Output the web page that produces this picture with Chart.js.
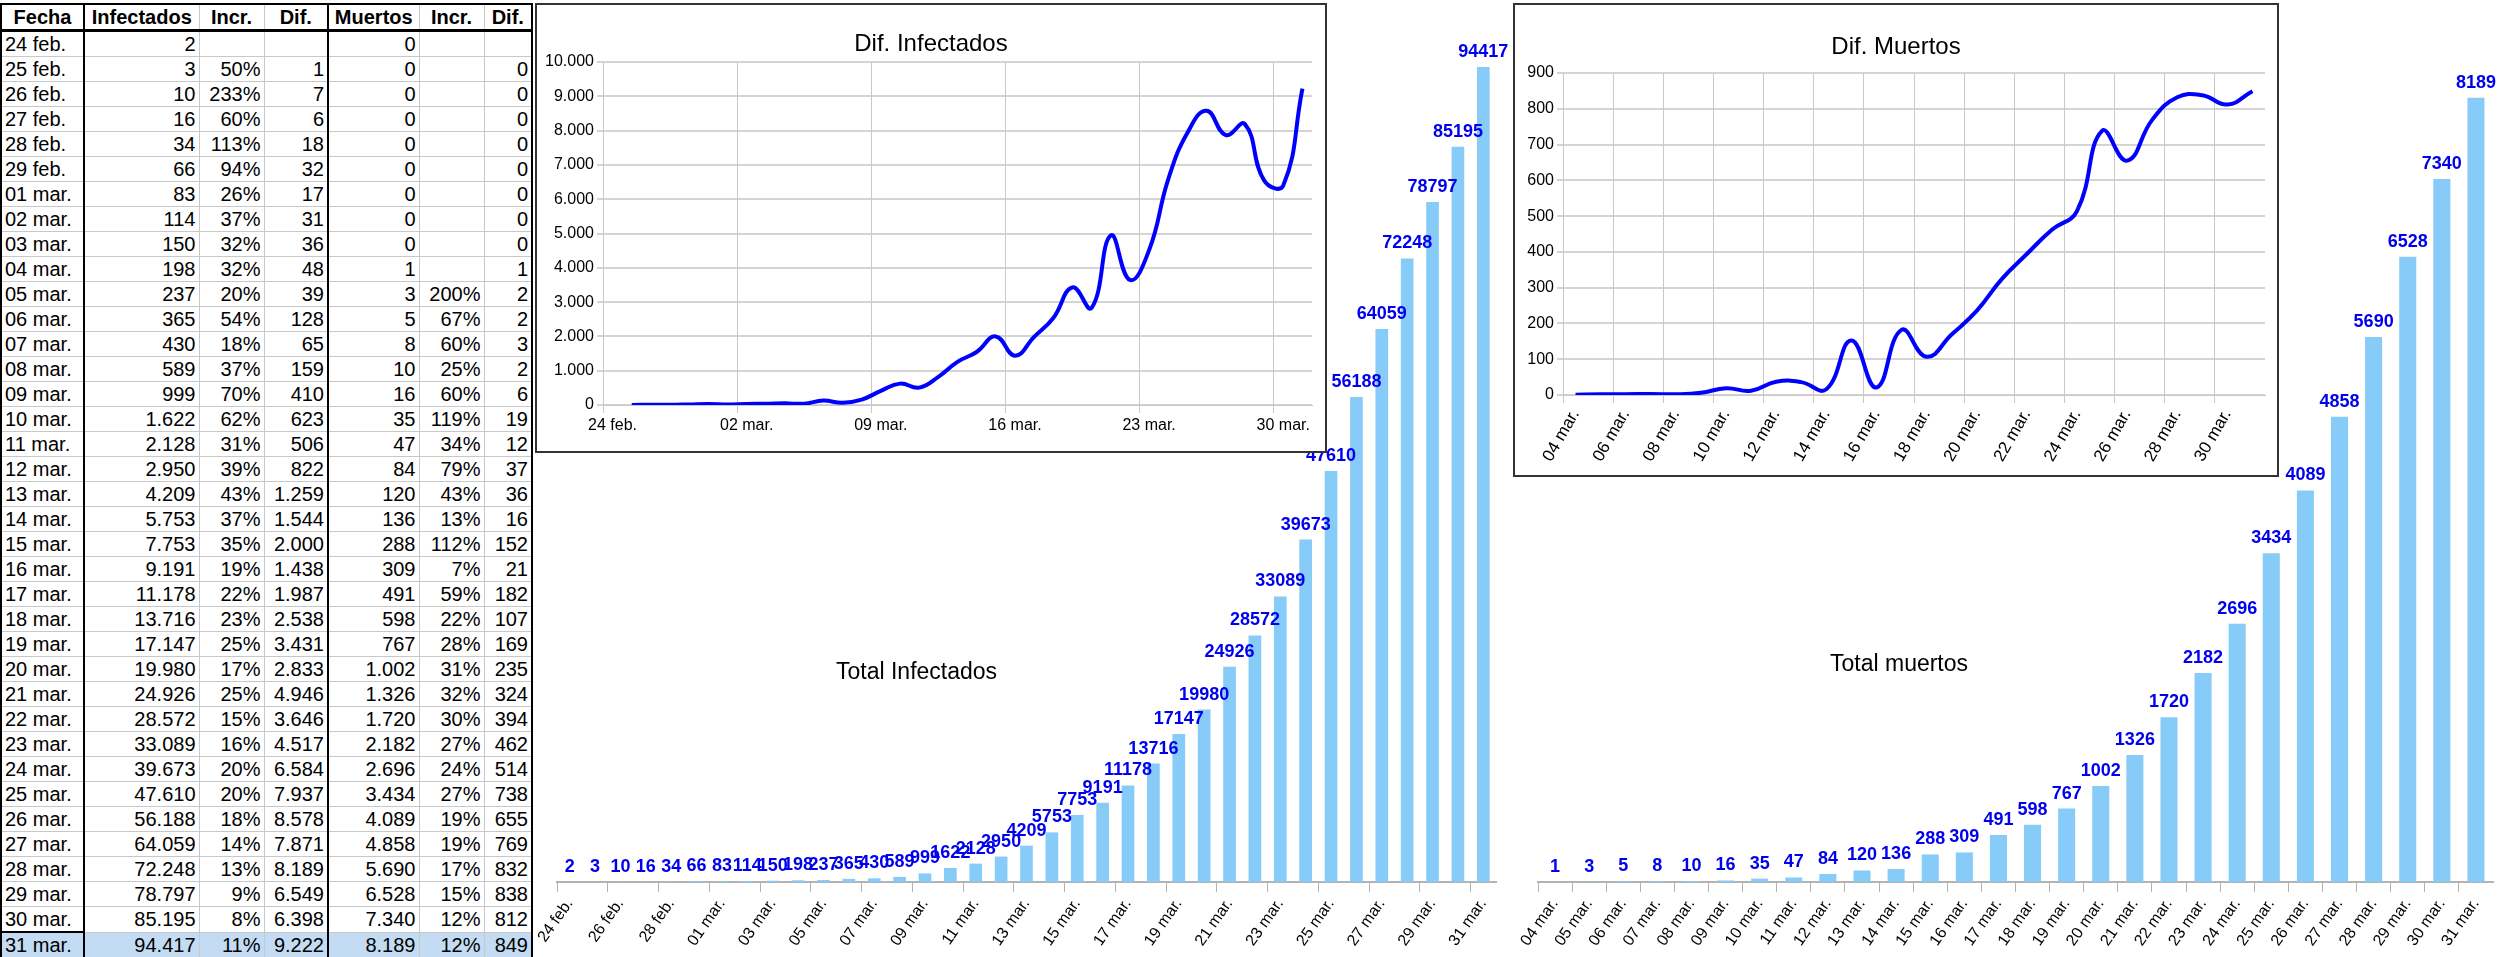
<!DOCTYPE html>
<html>
<head>
<meta charset="UTF-8">
<title>Coronavirus</title>
<script src="https://cdn.jsdelivr.net/npm/chart.js"></script>
<style>
  body { margin: 0; width: 2498px; height: 957px; background: #fff; font-family: "Liberation Sans", Arial, sans-serif; position: relative; overflow: hidden; }
  table { position: absolute; left: 0; top: 3px; border-collapse: collapse; table-layout: fixed; font-size: 20px; }
  td, th { height: 24px; padding: 0 3px; border: 1px solid #c8c8c8; text-align: right; white-space: nowrap; overflow: hidden; line-height: 24px; }
  th { font-weight: bold; text-align: center; border-bottom: 3px solid #000; border-top: 2px solid #000; padding: 0 1px; }
  td.f { text-align: left; }
  .tk { border-right: 2px solid #000; }
  .lk { border-left: 2px solid #000; }
  tr.sel td { background: #c4dcf3; border-top: 1px solid #2a72c4; border-bottom: 1px solid #2a72c4; }
  tr.sel td.f { border: 2px solid #000; }
  .box { position: absolute; background: #fff; border: 2px solid #333; }
  .ttl { position: absolute; width: 100%; text-align: center; font-size: 24px; color: #000; }
  .free { position: absolute; }
  .btl { position: absolute; font-size: 23px; color: #000; }
</style>
</head>
<body>

<table id="tbl"></table>

<div class="free" style="left:535px;top:0;width:975px;height:957px"><canvas id="totInf"></canvas></div>
<div class="btl" style="left:836px;top:658px">Total Infectados</div>
<div class="free" style="left:1510px;top:0;width:988px;height:957px"><canvas id="totMue"></canvas></div>
<div class="btl" style="left:1830px;top:650px">Total muertos</div>

<div class="box" style="left:535px;top:3px;width:788px;height:446px">
  <canvas id="difInf"></canvas>
  <div class="ttl" style="top:24px">Dif. Infectados</div>
</div>
<div class="box" style="left:1513px;top:3px;width:762px;height:470px">
  <canvas id="difMue"></canvas>
  <div class="ttl" style="top:27px">Dif. Muertos</div>
</div>

<script>
  const fechas = ['24 feb.','25 feb.','26 feb.','27 feb.','28 feb.','29 feb.','01 mar.','02 mar.','03 mar.','04 mar.',
    '05 mar.','06 mar.','07 mar.','08 mar.','09 mar.','10 mar.','11 mar.','12 mar.','13 mar.','14 mar.',
    '15 mar.','16 mar.','17 mar.','18 mar.','19 mar.','20 mar.','21 mar.','22 mar.','23 mar.','24 mar.',
    '25 mar.','26 mar.','27 mar.','28 mar.','29 mar.','30 mar.','31 mar.'];
  const infectados = [2,3,10,16,34,66,83,114,150,198,237,365,430,589,999,1622,2128,2950,4209,5753,7753,9191,11178,
    13716,17147,19980,24926,28572,33089,39673,47610,56188,64059,72248,78797,85195,94417];
  const incrInf = ['','50%','233%','60%','113%','94%','26%','37%','32%','32%','20%','54%','18%','37%','70%','62%','31%',
    '39%','43%','37%','35%','19%','22%','23%','25%','17%','25%','15%','16%','20%','20%','18%','14%','13%','9%','8%','11%'];
  const difInf = [null,1,7,6,18,32,17,31,36,48,39,128,65,159,410,623,506,822,1259,1544,2000,1438,1987,2538,3431,2833,
    4946,3646,4517,6584,7937,8578,7871,8189,6549,6398,9222];
  const muertos = [0,0,0,0,0,0,0,0,0,1,3,5,8,10,16,35,47,84,120,136,288,309,491,598,767,1002,1326,1720,2182,2696,3434,
    4089,4858,5690,6528,7340,8189];
  const incrMue = ['','','','','','','','','','','200%','67%','60%','25%','60%','119%','34%','79%','43%','13%','112%',
    '7%','59%','22%','28%','31%','32%','30%','27%','24%','27%','19%','19%','17%','15%','12%','12%'];
  const difMue = [null,0,0,0,0,0,0,0,0,1,2,2,3,2,6,19,12,37,36,16,152,21,182,107,169,235,324,394,462,514,738,655,769,
    832,838,812,849];
  const inicioMuertos = 9; // 04 mar.

  const fmt = v => v === null ? '' : String(v).replace(/\B(?=(\d{3})+(?!\d))/g, '.');

  // tabla
  let html = '<colgroup><col style="width:83px"><col style="width:115px"><col style="width:65px"><col style="width:64px">' +
    '<col style="width:91px"><col style="width:65px"><col style="width:48px"></colgroup>' +
    '<tr><th class="tk lk">Fecha</th><th>Infectados</th><th>Incr.</th><th class="tk">Dif.</th><th>Muertos</th><th>Incr.</th><th class="tk">Dif.</th></tr>';
  fechas.forEach((f, i) => {
    html += '<tr' + (i === fechas.length - 1 ? ' class="sel"' : '') + '><td class="f tk lk">' + f + '</td><td>' + fmt(infectados[i]) +
      '</td><td>' + incrInf[i] + '</td><td class="tk">' + fmt(difInf[i]) + '</td><td>' + fmt(muertos[i]) +
      '</td><td>' + incrMue[i] + '</td><td class="tk">' + fmt(difMue[i]) + '</td></tr>';
  });
  document.getElementById('tbl').innerHTML = html;

  const etiquetas = {
    id: 'etiquetas',
    afterDatasetsDraw(chart) {
      const ctx = chart.ctx;
      ctx.save();
      ctx.font = 'bold 18px "Liberation Sans", Arial';
      ctx.fillStyle = '#0000ee';
      ctx.textAlign = 'center';
      ctx.textBaseline = 'bottom';
      chart.getDatasetMeta(0).data.forEach((bar, i) => {
        ctx.fillText(chart.data.datasets[0].data[i], bar.x, bar.y - 6);
      });
      ctx.restore();
    }
  };

  function barras(id, labels, data, max, padL, padR, cada) {
    new Chart(document.getElementById(id), {
      type: 'bar',
      data: { labels: labels, datasets: [{ data: data, backgroundColor: '#87ccf8', barPercentage: 0.5, categoryPercentage: 1 }] },
      options: {
        responsive: true, maintainAspectRatio: false, animation: false,
        layout: { padding: { left: padL, right: padR, top: 0, bottom: 0 } },
        plugins: { legend: { display: false }, tooltip: { enabled: false } },
        scales: {
          y: { display: false, min: 0, max: max },
          x: {
            afterFit: s => { s.height = 75; },
            border: { color: '#b3b3b3', width: 2 },
            grid: { drawOnChartArea: false, tickLength: 10, color: c => c.index % cada === 0 ? '#b3b3b3' : 'rgba(0,0,0,0)' },
            ticks: { autoSkip: false, maxRotation: 55, minRotation: 55, color: '#000', font: { size: 16, family: 'Liberation Sans' },
              callback: function(v, i) { return i % cada === 0 ? this.getLabelForValue(v) : ''; } }
          }
        }
      },
      plugins: [etiquetas]
    });
  }
  barras('totInf', fechas, infectados, 102190, 22, 14, 2);
  barras('totMue', fechas.slice(inicioMuertos), muertos.slice(inicioMuertos), 9210, 28, 5, 1);

  function lineas(id, labels, data, max, step, pad, yW, xH, cada, rot, fontSz) {
    new Chart(document.getElementById(id), {
      type: 'line',
      data: { labels: labels, datasets: [{ data: data, borderColor: '#0000ff', borderWidth: 4, pointRadius: 0, tension: 0.45, fill: false }] },
      options: {
        responsive: true, maintainAspectRatio: false, animation: false,
        layout: { padding: pad },
        plugins: { legend: { display: false }, tooltip: { enabled: false } },
        scales: {
          y: {
            min: 0, max: max, afterFit: s => { s.width = yW; },
            border: { display: false },
            grid: { color: '#d4d4d4', lineWidth: 2, tickLength: 6 },
            ticks: { stepSize: step, color: '#000', font: { size: 16, family: 'Liberation Sans' }, callback: v => fmt(v) }
          },
          x: {
            offset: true, afterFit: s => { s.height = xH; },
            border: { color: '#c8c8c8' },
            grid: { offset: true, tickLength: 8, color: c => c.index % cada === 0 ? '#c8c8c8' : 'rgba(0,0,0,0)' },
            ticks: { autoSkip: false, maxRotation: rot, minRotation: rot, color: '#000', font: { size: fontSz, family: 'Liberation Sans' },
              callback: function(v, i) { return i % cada === 0 ? this.getLabelForValue(v) : ''; } }
          }
        }
      }
    });
  }
  lineas('difInf', fechas, difInf, 10000, 1000, { left: 4, right: 13, top: 57, bottom: 0 }, 62, 46, 7, 0, 16);
  lineas('difMue', fechas.slice(inicioMuertos), difMue.slice(inicioMuertos), 900, 100, { left: 4, right: 12, top: 68, bottom: 0 }, 44, 80, 2, 60, 17);
</script>
</body>
</html>
